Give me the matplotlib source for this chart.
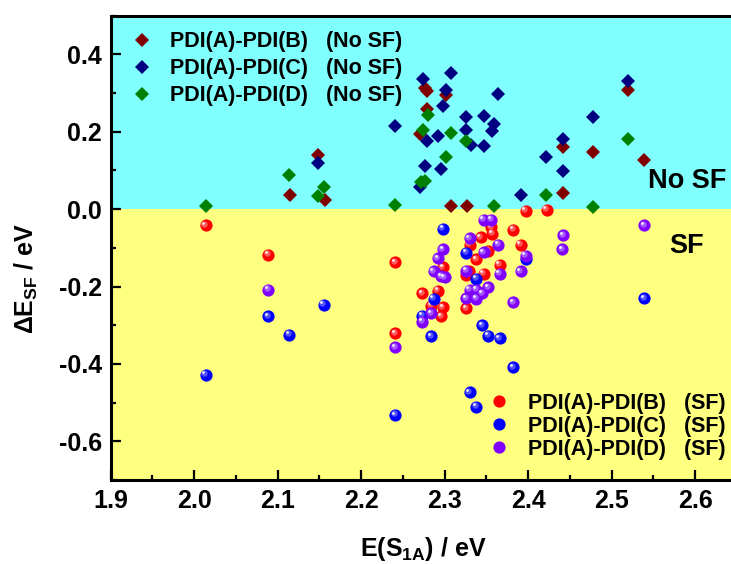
import matplotlib
matplotlib.use('Agg')
import matplotlib.pyplot as plt
from matplotlib import transforms
from matplotlib.ticker import MultipleLocator, FormatStrFormatter
from matplotlib.lines import Line2D

plt.rcParams['font.family'] = ['Liberation Sans', 'DejaVu Sans']
plt.rcParams['font.weight'] = 'bold'
plt.rcParams['mathtext.fontset'] = 'custom'
plt.rcParams['mathtext.rm'] = 'Liberation Sans:bold'
plt.rcParams['mathtext.bf'] = 'Liberation Sans:bold'
plt.rcParams['mathtext.it'] = 'Liberation Sans:bold'

# --- no SF (diamonds) ---
ab_nosf_x = [2.115, 2.148, 2.157, 2.276, 2.279, 2.302, 2.279, 2.270, 2.308, 2.327,
             2.442, 2.442, 2.478, 2.519, 2.539]
ab_nosf_y = [0.037, 0.140, 0.024, 0.313, 0.305, 0.296, 0.258, 0.195, 0.008, 0.009,
             0.160, 0.041, 0.149, 0.307, 0.126]

ac_nosf_x = [2.148, 2.241, 2.274, 2.308, 2.302, 2.298, 2.326, 2.326, 2.279, 2.292,
             2.332, 2.276, 2.296, 2.270, 2.364, 2.347, 2.359, 2.357, 2.347, 2.391,
             2.421, 2.442, 2.442, 2.478, 2.519]
ac_nosf_y = [0.120, 0.214, 0.337, 0.352, 0.307, 0.266, 0.238, 0.205, 0.177, 0.189,
             0.166, 0.112, 0.105, 0.057, 0.298, 0.240, 0.221, 0.203, 0.163, 0.037,
             0.136, 0.182, 0.098, 0.238, 0.331]

ad_nosf_x = [2.014, 2.114, 2.148, 2.155, 2.241, 2.280, 2.274, 2.308, 2.326, 2.302,
             2.272, 2.277, 2.359, 2.421, 2.478, 2.519]
ad_nosf_y = [0.007, 0.089, 0.033, 0.057, 0.012, 0.244, 0.205, 0.197, 0.175, 0.134,
             0.070, 0.073, 0.008, 0.036, 0.005, 0.182]

# --- SF (spheres) ---
ab_sf_x = [2.014, 2.089, 2.241, 2.241, 2.273, 2.292, 2.298, 2.284, 2.298, 2.296,
           2.326, 2.330, 2.338, 2.326, 2.329, 2.343, 2.356, 2.357, 2.352, 2.366,
           2.347, 2.382, 2.391, 2.397, 2.422]
ab_sf_y = [-0.042, -0.118, -0.137, -0.321, -0.217, -0.211, -0.150, -0.249, -0.254, -0.277,
           -0.256, -0.092, -0.130, -0.170, -0.160, -0.072, -0.047, -0.064, -0.107, -0.144,
           -0.167, -0.053, -0.092, -0.004, -0.002]

ac_sf_x = [2.014, 2.089, 2.114, 2.155, 2.241, 2.298, 2.287, 2.273, 2.284, 2.326,
           2.338, 2.330, 2.338, 2.345, 2.352, 2.366, 2.382, 2.397, 2.539]
ac_sf_y = [-0.428, -0.277, -0.325, -0.247, -0.532, -0.051, -0.232, -0.275, -0.329, -0.113,
           -0.180, -0.473, -0.510, -0.300, -0.327, -0.334, -0.409, -0.128, -0.230]

ad_sf_x = [2.089, 2.241, 2.298, 2.292, 2.287, 2.296, 2.300, 2.273, 2.284, 2.330,
           2.326, 2.330, 2.338, 2.326, 2.338, 2.347, 2.356, 2.364, 2.347, 2.366,
           2.352, 2.345, 2.382, 2.397, 2.391, 2.442, 2.441, 2.539]
ad_sf_y = [-0.208, -0.357, -0.103, -0.127, -0.160, -0.173, -0.176, -0.291, -0.269, -0.075,
           -0.159, -0.208, -0.208, -0.230, -0.232, -0.027, -0.027, -0.092, -0.111, -0.167,
           -0.202, -0.217, -0.241, -0.120, -0.161, -0.068, -0.103, -0.041]

nosf_labels = ['PDI(A)-PDI(B)   (No SF)', 'PDI(A)-PDI(C)   (No SF)', 'PDI(A)-PDI(D)   (No SF)']
sf_labels = ['PDI(A)-PDI(B)   (SF)', 'PDI(A)-PDI(C)   (SF)', 'PDI(A)-PDI(D)   (SF)']

fig = plt.figure(figsize=(7.31, 5.64), dpi=100)
# the axes run past the right edge of the figure, so the right spine is not shown
ax = fig.add_axes([0.1514, 0.1489, 0.891, 0.8232])
ax.set_xlim(1.9, 2.68)
ax.set_ylim(-0.7, 0.5)

ax.axhspan(0, 0.5, color='#80FFFF', lw=0, zorder=0)
ax.axhspan(-0.7, 0, color='#FFFF80', lw=0, zorder=0)

dia_cols = ['#800000', '#000080', '#008000']
for (x, y), c in zip([(ab_nosf_x, ab_nosf_y), (ac_nosf_x, ac_nosf_y), (ad_nosf_x, ad_nosf_y)], dia_cols):
    ax.plot(x, y, 'D', ms=7, color=c, mew=0, zorder=3)

hi1 = transforms.offset_copy(ax.transData, fig=fig, x=-1.1, y=1.1, units='points')
hi2 = transforms.offset_copy(ax.transData, fig=fig, x=-1.8, y=1.8, units='points')


def balls(x, y, color, light):
    # shaded sphere: base disc, softer inner glow, small white glint
    ax.plot(x, y, 'o', ms=8.8, color=color, mew=0, zorder=3)
    ax.plot(x, y, 'o', ms=4.6, color=light, mew=0, alpha=0.8, transform=hi1, zorder=3)
    ax.plot(x, y, 'o', ms=1.9, color='white', mew=0, transform=hi2, zorder=3)


ball_cols = ['#FF0000', '#0000FF', '#8000FF']
ball_light = ['#FF7070', '#6A6AFF', '#B070FF']
for (x, y), c, lc in zip([(ab_sf_x, ab_sf_y), (ac_sf_x, ac_sf_y), (ad_sf_x, ad_sf_y)], ball_cols, ball_light):
    balls(x, y, c, lc)

ax.text(2.59, 0.073, 'No SF', fontsize=19.5, fontweight='bold', ha='center', va='center')
ax.text(2.59, -0.096, 'SF', fontsize=19.5, fontweight='bold', ha='center', va='center')

# legends
h1 = [Line2D([], [], ls='none', marker='D', ms=7, color=c, mew=0) for c in dia_cols]
leg1 = ax.legend(h1, nosf_labels, loc='upper left', bbox_to_anchor=(0.0312, 0.9664),
                 frameon=False, fontsize=15.5, borderpad=0, borderaxespad=0,
                 handlelength=1.0, handletextpad=0.816, labelspacing=0.28)
ax.add_artist(leg1)
h2 = [Line2D([], [], ls='none', marker='o', ms=8.8, color=c, mew=0) for c in ball_cols]
ax.legend(h2, sf_labels, loc='upper left', bbox_to_anchor=(0.5797, 0.1874),
          frameon=False, fontsize=15.5, borderpad=0, borderaxespad=0,
          handlelength=1.0, handletextpad=0.85, labelspacing=0.093)

ax.xaxis.set_major_locator(MultipleLocator(0.1))
ax.xaxis.set_minor_locator(MultipleLocator(0.05))
ax.yaxis.set_major_locator(MultipleLocator(0.2))
ax.yaxis.set_minor_locator(MultipleLocator(0.1))
ax.tick_params(which='both', direction='in', width=1.6, top=False, right=False,
               labelsize=18)
ax.tick_params(which='major', length=7)
ax.tick_params(which='minor', length=3.6)
ax.tick_params(axis='y', pad=6.5)
ax.tick_params(axis='x', pad=6.5)
ax.xaxis.set_major_formatter(FormatStrFormatter('%.1f'))
ax.yaxis.set_major_formatter(FormatStrFormatter('%.1f'))
for s in ax.spines.values():
    s.set_linewidth(2.2)

ax.set_xlabel(r'E(S$_{\mathbf{1A}}$) / eV', fontsize=18, fontweight='bold')
ax.set_ylabel(r'ΔE$_{\mathbf{SF}}$ / eV', fontsize=18, fontweight='bold')
ax.xaxis.set_label_coords(0.4795, -0.118)
ax.yaxis.set_label_coords(-0.1086, 0.435)

fig.savefig('out.png', dpi=100)
